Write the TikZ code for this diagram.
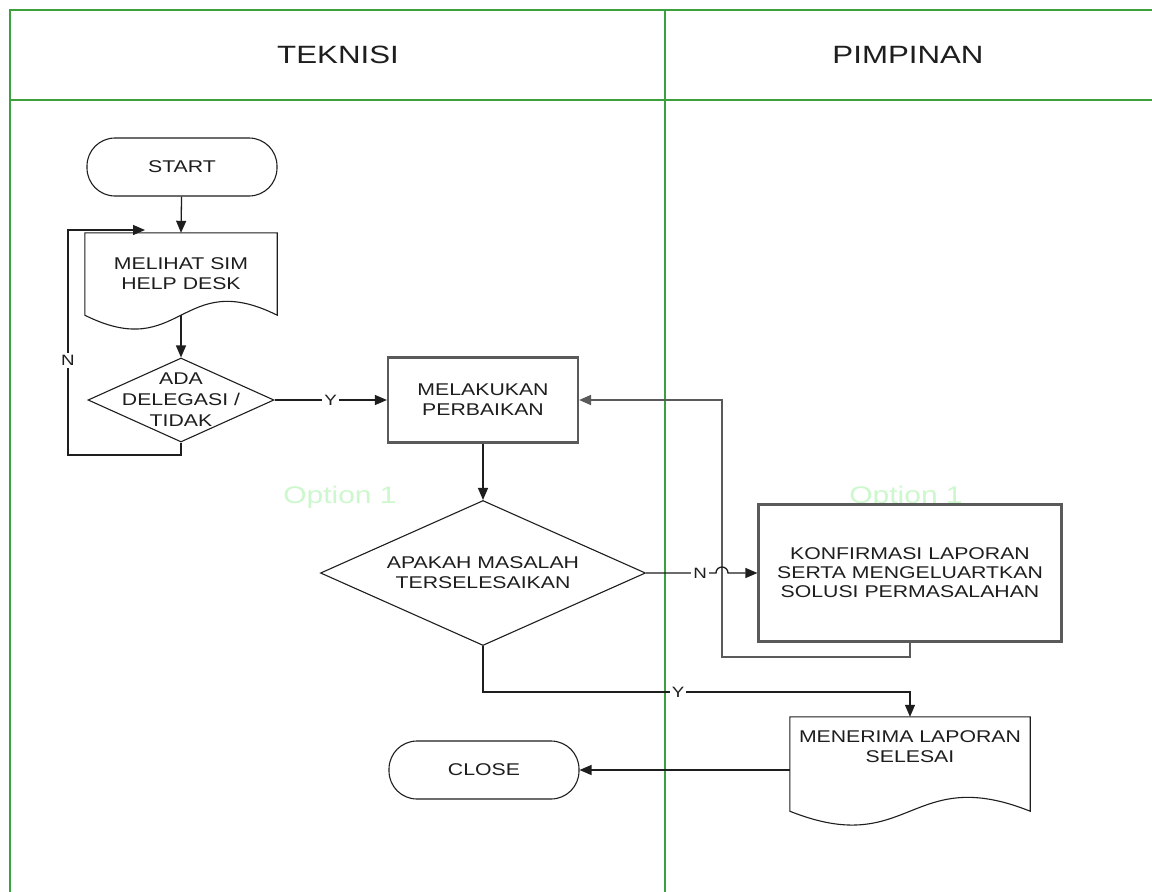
\documentclass[tikz,border=0pt]{standalone}
\usepackage{fontspec}
\setmainfont{Liberation Sans}[FakeStretch=1.25]
\usetikzlibrary{arrows.meta,calc,shapes.geometric}

\definecolor{lanegreen}{RGB}{60,160,60}
\definecolor{optgreen}{RGB}{205,248,205}
\definecolor{ink}{RGB}{30,30,30}
\definecolor{boxedge}{RGB}{90,90,90}

\tikzset{
  lane/.style={draw=lanegreen, line width=2pt},
  lanetitle/.style={font=\fontsize{25}{28}\selectfont, text=ink},
  terminal/.style={draw=ink, line width=1.1pt, fill=white, rectangle,
    rounded corners=28pt, minimum width=190pt, minimum height=58pt},
  decision/.style={draw=ink, line width=1.1pt, fill=white, diamond},
  process/.style={draw=boxedge, line width=2.2pt, fill=white, rectangle},
  docbox/.style={rectangle, draw=none},
  docline/.style={draw=ink, line width=1.1pt, fill=white},
  conn/.style={draw=ink, line width=1.3pt},
  backconn/.style={draw=boxedge, line width=1.8pt},
  tip/.style={-{Triangle[length=12pt,width=10pt]}},
  lbl/.style={fill=white, inner sep=2pt, font=\fontsize{15}{17}\selectfont, text=ink},
  opt/.style={text=optgreen, font=\fontsize{24}{26}\selectfont}
}

\begin{document}
\begin{tikzpicture}[x=1pt, y=-1pt,
  every node/.style={font=\fontsize{17}{20}\selectfont, text=ink, inner sep=0pt, align=center}]

\useasboundingbox (0,0) rectangle (1152,892);
\fill[white] (0,0) rectangle (1152,892);

% swimlanes
\draw[lane] (10,892) -- (10,10) -- (1152,10);
\draw[lane] (10,100) -- (1152,100);
\draw[lane] (665,10) -- (665,892);
\node[lanetitle] (laneA) at (338,55) {TEKNISI};
\node[lanetitle] (laneB) at (908,55) {PIMPINAN};

% faint captions
\node[opt] (optA) at (340,497) {Option 1};
\node[opt] (optB) at (906,497) {Option 1};

% shapes
\node[terminal] (start) at (182,167) {START};

\node[docbox, minimum width=192pt, minimum height=82pt] (melihat) at (181,274) {};
\draw[docline] (melihat.south west) -- (melihat.north west) -- (melihat.north east) -- (melihat.south east)
  .. controls ($(melihat.south)+(0,-48)$) and ($(melihat.south)+(0,48)$) .. (melihat.south west) -- cycle;
\node (melihattext) at (181,274) {MELIHAT SIM\\HELP DESK};

\node[decision, minimum width=186pt, minimum height=84pt,
  label={[font=\fontsize{17}{21}\selectfont, align=center]center:ADA\\DELEGASI /\\TIDAK}] (ada) at (181,400) {};

\node[process, minimum width=190pt, minimum height=85pt] (mel) at (483,400)
  {MELAKUKAN\\PERBAIKAN};

\node[decision, minimum width=325pt, minimum height=145pt,
  label={[font=\fontsize{17}{20}\selectfont, align=center]center:APAKAH MASALAH\\TERSELESAIKAN}] (apakah) at (483,573) {};

\node[process, minimum width=303pt, minimum height=137pt, font=\fontsize{17}{19}\selectfont] (konf) at (910,573)
  {KONFIRMASI LAPORAN\\SERTA MENGELUARTKAN\\SOLUSI PERMASALAHAN};

\node[docbox, minimum width=240pt, minimum height=94pt] (mener) at (910,764) {};
\draw[docline] (mener.south west) -- (mener.north west) -- (mener.north east) -- (mener.south east)
  .. controls ($(mener.south)+(0,-48)$) and ($(mener.south)+(0,48)$) .. (mener.south west) -- cycle;
\node (menertext) at (910,747) {MENERIMA LAPORAN\\SELESAI};

\node[terminal] (close) at (484,770) {CLOSE};

% loop-back points
\coordinate (loopBL) at (68,455);
\coordinate (loopTL) at (68,230);
\coordinate (loopEnd) at (145,230);
\coordinate (backDown) at (910,657);
\coordinate (backUp) at (722,657);
\coordinate (yTurn) at (483,692);
\coordinate (yEnd) at (910,692);
\coordinate (hopL) at (716,573);

% connectors
\draw[conn, tip] (start) -- (melihat.north);
\draw[conn, tip] (melihat.south) -- (ada.north);
\draw[conn, tip] (ada.south) -- (ada.south |- loopBL) -- (loopBL)
  -- node[lbl, pos=0.42] {N} (loopTL) -- (loopEnd);
\draw[conn, tip] (ada.east) -- node[lbl] {Y} (mel.west);
\draw[conn, tip] (mel.south) -- (apakah.north);
\draw[backconn, tip] (konf.south) -- (backDown) -- (backUp) -- (backUp |- mel.east) -- (mel.east);
\draw[conn, tip] (apakah.east) -- node[lbl, pos=0.775] {N} (hopL)
  arc[start angle=180, end angle=360, radius=6] -- (konf.west);
\draw[conn, tip] (apakah.south) -- (yTurn) -- node[lbl, pos=0.457] {Y} (yEnd) -- (mener.north);
\draw[conn, tip] (mener.west |- close) -- (close.east);

\end{tikzpicture}
\end{document}
